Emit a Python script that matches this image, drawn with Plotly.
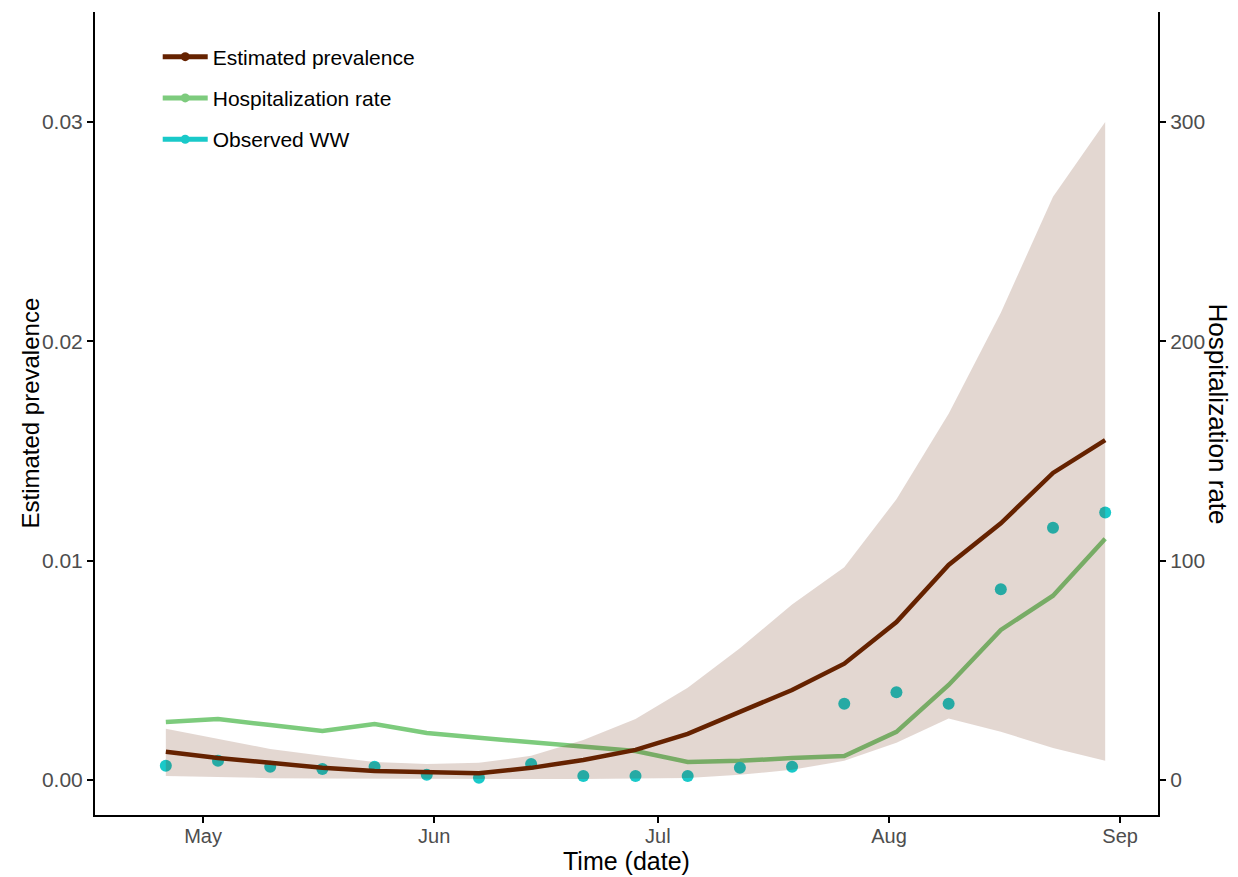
import plotly.graph_objects as go

# Weekly sampling dates
weeks = [
    "2023-04-26", "2023-05-03", "2023-05-10", "2023-05-17", "2023-05-24",
    "2023-05-31", "2023-06-07", "2023-06-14", "2023-06-21", "2023-06-28",
    "2023-07-05", "2023-07-12", "2023-07-19", "2023-07-26", "2023-08-02",
    "2023-08-09", "2023-08-16", "2023-08-23", "2023-08-30",
]

# Estimated prevalence (posterior median) and its credible band
prevalence = [0.00128, 0.0010, 0.00078, 0.00055, 0.00041, 0.00033, 0.00030,
              0.00055, 0.00091, 0.00137, 0.0021, 0.0031, 0.0041, 0.0053,
              0.0072, 0.0098, 0.0117, 0.0140, 0.0155]
prev_lower = [0.00018, 0.00012, 0.00008, 0.00006, 0.00005, 0.00004, 0.00004,
              0.00004, 0.00004, 0.00005, 0.00009, 0.00023, 0.00046, 0.00087,
              0.0017, 0.0028, 0.0022, 0.00146, 0.00087]
prev_upper = [0.00233, 0.00187, 0.00141, 0.0011, 0.00082, 0.00073, 0.00078,
              0.0011, 0.00182, 0.00278, 0.0042, 0.0060, 0.0080, 0.0097,
              0.0128, 0.0167, 0.0213, 0.0266, 0.0300]

# Hospitalization rate (right axis)
hosp_rate = [26.4, 27.8, 25.0, 22.3, 25.5, 21.4, 19.2, 17.3, 15.5, 13.2,
             8.2, 8.7, 10.0, 10.9, 21.9, 43.3, 68.4, 84.0, 110.0]

# Observed wastewater signal, on the prevalence scale
observed_ww = [0.00065, 0.00087, 0.0006, 0.0005, 0.0006, 0.00023, 0.0001,
               0.00073, 0.00018, 0.00018, 0.00018, 0.00055, 0.0006, 0.00347,
               0.0040, 0.00347, 0.0087, 0.0115, 0.0122]

# Axis ticks
prev_ticks = [0.0, 0.01, 0.02, 0.03]
hosp_ticks = [0, 100, 200, 300]

BROWN = "#652200"
GREEN = "#7DCB7D"
CYAN = "#19C9C9"
BAND = "rgba(102,34,0,0.18)"
FONT = "Liberation Sans, Arial, Helvetica, sans-serif"

fig = go.Figure()

# Hospitalization rate: drawn on the base (right-hand) axis, below the band
fig.add_trace(go.Scatter(
    x=weeks, y=hosp_rate, mode="lines", yaxis="y",
    line=dict(color=GREEN, width=4.5), showlegend=False,
))

# Observed WW points, then the credible band over them, then the median line
fig.add_trace(go.Scatter(
    x=weeks, y=observed_ww, mode="markers", yaxis="y2",
    marker=dict(color=CYAN, size=12, line=dict(width=0)), showlegend=False,
))
fig.add_trace(go.Scatter(
    x=weeks + weeks[::-1], y=prev_upper + prev_lower[::-1], yaxis="y2",
    mode="lines", fill="toself", fillcolor=BAND, line=dict(width=0),
    showlegend=False, hoverinfo="skip",
))
fig.add_trace(go.Scatter(
    x=weeks, y=prevalence, mode="lines", yaxis="y2",
    line=dict(color=BROWN, width=4.5), showlegend=False,
))

# Legend keys (line + point)
for i, (name, col) in enumerate([("Estimated prevalence", BROWN),
                                 ("Hospitalization rate", GREEN),
                                 ("Observed WW", CYAN)]):
    fig.add_trace(go.Scatter(
        x=[None], y=[None], mode="lines+markers", name=name, yaxis="y2",
        line=dict(color=col, width=5), marker=dict(color=col, size=9),
        legendgroup=name, legendrank=i + 1,
    ))

axis_common = dict(
    showline=True, linecolor="black", linewidth=2,
    ticks="outside", ticklen=6, tickwidth=1.5, tickcolor="black",
    tickfont=dict(family=FONT, size=21, color="#4D4D4D"),
    showgrid=False, zeroline=False,
)

fig.update_layout(
    width=1238, height=877,
    margin=dict(l=95, r=80, t=12, b=62),
    paper_bgcolor="white", plot_bgcolor="white",
    font=dict(family=FONT, color="black"),
    xaxis=dict(
        type="date", range=["2023-04-16 12:00", "2023-09-06 02:00"],
        tick0="2023-05-01", dtick="M1", tickformat="%b",
        ticklabelstandoff=-4,
        **{**axis_common,
           "tickfont": dict(family=FONT, size=20, color="#4D4D4D")},
    ),
    yaxis=dict(
        side="right", range=[-16, 350.2], tickvals=hosp_ticks,
        **axis_common,
    ),
    yaxis2=dict(
        side="left", overlaying="y", range=[-0.0016, 0.03502],
        tickvals=prev_ticks, tickformat=".2f",
        **axis_common,
    ),
    legend=dict(
        x=0.059, y=0.9695, xanchor="left", yanchor="top",
        font=dict(family=FONT, size=21, color="black"),
        bgcolor="rgba(0,0,0,0)", itemwidth=45,
        traceorder="grouped", tracegroupgap=11,
    ),
    annotations=[
        dict(text="Estimated prevalence", xref="paper", yref="paper",
             x=-0.0611, y=0.5, xanchor="center", yanchor="middle",
             textangle=-90, showarrow=False,
             font=dict(family=FONT, size=24, color="black")),
        dict(text="Hospitalization rate", xref="paper", yref="paper",
             x=1.0565, y=0.5, xanchor="center", yanchor="middle",
             textangle=90, showarrow=False,
             font=dict(family=FONT, size=26, color="black")),
        dict(text="Time (date)", xref="paper", yref="paper",
             x=0.5, y=-0.0573, xanchor="center", yanchor="middle",
             showarrow=False,
             font=dict(family=FONT, size=25, color="black")),
    ],
)

fig.write_html("out.html")
